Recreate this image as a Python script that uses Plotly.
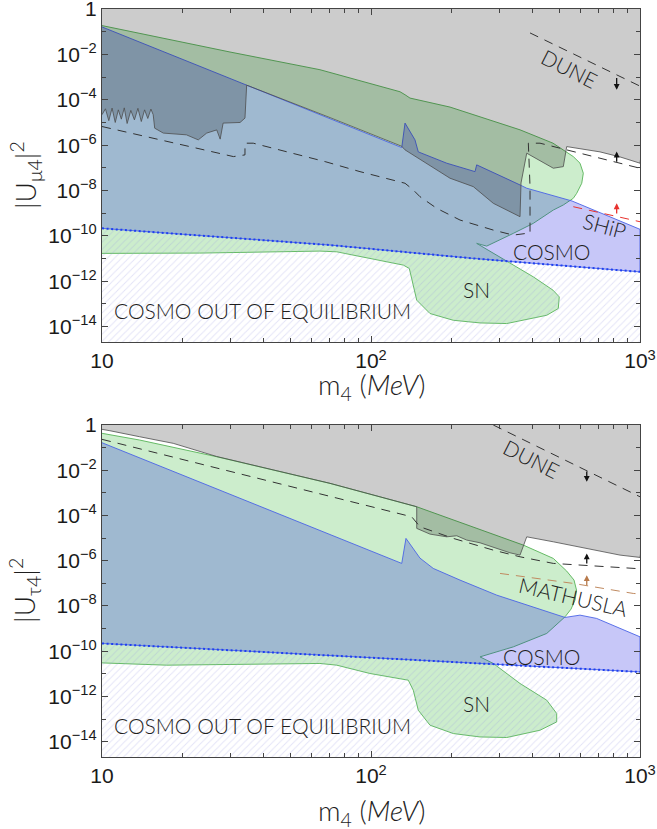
import numpy as np
import plotly.graph_objects as go

# ---------------- axis limits ----------------
M_LO, M_HI = 10, 1000
U_CEIL, U_FLOOR = 2.0, 1e-16

# ================= TOP PANEL (|U_mu4|^2) =================
# grey (excluded) region: lower boundary, left -> right
mu_gray_m = [10, 10.3, 10.6, 10.9, 11.2, 11.5, 11.8, 12.1, 12.4, 12.8, 13.2, 13.6, 14.0, 14.4, 14.8, 15.2, 15.5,
             15.7, 16.9, 20.6, 22.8, 24.5, 26.7, 27.5, 28.2, 32.6, 34.0, 34.5, 70.4, 130.1, 133.8, 149.9, 196.7,
             240.1, 284.9, 358.1, 361.2, 379.2, 476.2, 518.7, 534, 710, 842.9, 1000]
mu_gray_u = [2.2e-5, 4.0e-5, 1.2e-5, 4.3e-5, 1.0e-5, 3.6e-5, 1.4e-5, 4.4e-5, 9e-6, 3.4e-5, 1.3e-5, 4.2e-5, 1.1e-5, 3.6e-5, 1.5e-5, 3.9e-5, 2.2e-5,
             5.6e-6, 3.4e-6, 2.85e-6, 1.71e-6, 3.4e-6, 4.7e-6, 1.84e-6, 9.4e-6, 1.0e-5, 1.56e-5, 4.4e-4, 1.64e-5, 8.9e-7, 6.2e-7, 2.66e-7, 3.48e-8,
             1.48e-8, 2.73e-9, 7.0e-10, 2.15e-8, 4.42e-7, 9.6e-8, 1.13e-7, 8.65e-7, 5.05e-7, 3.03e-7, 1.6e-7]

# green (BBN + SN) region outline
mu_green_m = [10, 29.9, 64.6, 128.2, 133.8, 139.6, 196.7, 358.1, 475, 565, 598.4, 615.5, 607.3, 581.8, 565, 518.7,
              476.2, 401.2, 338.1, 284.9, 269.2, 247.1, 319.5, 401.2, 475, 501, 496.8, 450.1, 319.5, 254.2, 202.3,
              165.7, 147.9, 141.7, 138.8, 131.9, 74.6, 64.6, 23.1, 10]
mu_green_u = [0.187, 0.0128, 2.12e-3, 2.26e-4, 1.67e-4, 1.19e-4, 4.77e-5, 4.73e-6, 1.22e-6, 3.13e-7, 1.6e-7, 5.78e-8, 2.09e-8, 7.55e-9, 4.54e-9, 2.3e-9,
              1.38e-9, 3.57e-10, 1.29e-10, 4.96e-11, 3.54e-11, 4.67e-11, 7.94e-12, 1.56e-12, 4.03e-13, 2.04e-13, 6.25e-14, 3.16e-14, 1.36e-14, 1.45e-14, 1.9e-14,
              3.76e-14, 1.46e-13, 1.11e-12, 3.66e-12, 5.13e-12, 1.98e-11, 2.13e-11, 1.74e-11, 1.69e-11]

# blue region: upper boundary (left -> right) and cosmological (dotted) lower boundary
mu_blue_top_m = [10, 130.1, 133.8, 145.7, 149.9, 191.2, 243.6, 247.1, 358.1, 379.2, 558.8, 1000]
mu_blue_top_u = [0.163, 7.82e-7, 9.36e-6, 1.71e-6, 5.05e-7, 1.6e-7, 6.8e-8, 1.35e-7, 1.76e-8, 1.26e-8, 3.45e-9, 1.94e-10]
mu_cosmo_m = [10, 70.4, 240.1, 1000]
mu_cosmo_u = [2.14e-10, 3.93e-11, 1.01e-11, 2.59e-12]

# dashed sensitivity curves
mu_dash_m = [10, 30.8, 34.0, 34.0, 36.5, 67.5, 91, 133.8, 143.6, 152.1, 175.5, 214.2, 284.9, 338.1, 379.2, 390.1,
             390.1, 384.5, 424.9, 476.2, 598.4, 944.1, 1000]
mu_dash_u = [6.62e-6, 3.13e-7, 3.72e-7, 1.22e-6, 1.22e-6, 1.88e-7, 6.8e-8, 2.09e-8, 1.06e-8, 5.34e-9, 1.64e-9, 4.99e-10, 1.8e-10, 1.08e-10, 1.29e-10, 1.29e-10,
             1.48e-8, 1.22e-6, 1.22e-6, 8.65e-7, 4.42e-7, 1.13e-7, 9.6e-8]
mu_dune_m = [390.1, 1000]
mu_dune_u = [0.0887, 4.0e-4]
mu_ship_m = [565, 1000]
mu_ship_u = [1.93e-9, 4.2e-10]

# ================= BOTTOM PANEL (|U_tau4|^2) =================
tau_gray_m = [10, 10.7, 13.8, 18.4, 26.7, 70.4, 147.9, 147.9, 165.7, 191.2, 208.3, 226.9, 254.2, 293.4, 328.6, 358.1,
              379.2, 476.2, 633.9, 842.9, 1000]
tau_gray_u = [0.645, 0.56, 0.304, 0.155, 0.0405, 2.63e-3, 2.43e-4, 2.69e-5, 1.5e-5, 1.14e-5, 1.27e-5, 8.16e-6, 6.2e-6, 3.5e-6, 2.24e-6, 1.77e-6,
              1.14e-5, 6.86e-6, 3.5e-6, 1.77e-6, 1.4e-6]

tau_green_m = [10, 13.8, 26.7, 70.4, 147.9, 368.3, 476.2, 534, 568.5, 580.8, 573.4, 554, 526.3, 450.1, 338.1, 254.2,
               284.9, 358.1, 450.1, 490.1, 490.1, 424.9, 319.5, 254.2, 202.3, 165.7, 149.9, 143.6, 137.6, 99.1, 74.6,
               64.6, 17.4, 10]
tau_green_u = [0.43, 0.217, 0.0396, 2.63e-3, 2.43e-4, 4.9e-6, 1.26e-6, 3.47e-7, 1.39e-7, 5e-8, 1.81e-8, 7.21e-9, 3.3e-9, 6.07e-10, 1.55e-10, 5.6e-11,
               2.86e-11, 3.72e-12, 6.79e-13, 1.75e-13, 7.44e-14, 3.19e-14, 1.52e-14, 1.61e-14, 2.28e-14, 5.32e-14, 2.45e-13, 1.88e-12, 5.21e-12, 1.03e-11, 2.4e-11,
               2.86e-11, 2.4e-11, 3.03e-11]

tau_blue_top_m = [10, 130.1, 134.9, 143.3, 152.1, 170.4, 214.2, 293.4, 413, 526.3, 598.4, 690.2, 1000]
tau_blue_top_u = [0.165, 7.6e-7, 9.7e-6, 3.61e-6, 1.3e-6, 4.56e-7, 1.39e-7, 3e-8, 7.75e-9, 3.1e-9, 3.92e-9, 2.8e-9, 4.3e-10]
tau_cosmo_m = [10, 64.6, 254.2, 1000]
tau_cosmo_u = [2.19e-10, 6.65e-11, 2.86e-11, 1.21e-11]

tau_dash_m = [10, 70.4, 141.7, 152.1, 202.3, 284.9, 358.1, 476.2, 944.1, 1000]
tau_dash_u = [0.233, 7.22e-4, 8.75e-5, 3.16e-5, 9.7e-6, 2.94e-6, 1.49e-6, 7.6e-7, 4.56e-7, 4.4e-7]
tau_dune_m = [284.9, 1000]
tau_dune_u = [1.0, 6.72e-4]
tau_mathusla_m = [301.8, 565, 944.1, 1000]
tau_mathusla_u = [2.74e-7, 9.9e-8, 3.57e-8, 3.4e-8]

# labels: (text, mass, U^2, angle)
mu_labels = [("DUNE", 549, 2.5e-3, 27), ("SHiP", 741, 3.0e-10, 15), ("COSMO", 470, 1.98e-11, 0),
             ("SN", 247, 4.3e-13, 0)]
tau_labels = [("DUNE", 395, 3.4e-2, 27), ("MATHUSLA", 565, 2.5e-8, 13), ("COSMO", 431, 5.6e-11, 0),
              ("SN", 247, 4.9e-13, 0)]
# arrows: (mass, tail U^2, head U^2, colour)
mu_arrows = [(819, 1.07e-3, 2.77e-4, "#111"), (819, 1.6e-7, 5.2e-7, "#111"), (819, 8.3e-10, 2.73e-9, "#e8322e")]
tau_arrows = [(634, 1.02e-2, 3.1e-3, "#111"), (634, 6.4e-7, 2.1e-6, "#111"), (634, 7e-8, 2.3e-7, "#b87a4b")]

# ---------------- styles ----------------
GREEN = "rgba(0,165,0,0.2)"
BLUE = "rgba(0,0,225,0.22)"
GRAY = "rgba(0,0,0,0.2)"
LABEL_FONT = dict(family="Lato", size=21, color="#1e1e1e", weight=300)

fig = go.Figure()


def add_poly(m, u, xa, ya, fill, lc, lw):
    fig.add_trace(go.Scatter(x=m, y=u, mode="lines", fill="toself", fillcolor=fill,
                             line=dict(color=lc, width=lw), xaxis=xa, yaxis=ya, hoverinfo="skip"))


def add_line(m, u, xa, ya, color, dash, width=1.0):
    fig.add_trace(go.Scatter(x=m, y=u, mode="lines", line=dict(color=color, dash=dash, width=width),
                             xaxis=xa, yaxis=ya, hoverinfo="skip"))


def panel(xa, ya, gray_m, gray_u, green_m, green_u, blue_m, blue_u, cos_m, cos_u):
    add_poly(green_m, green_u, xa, ya, GREEN, "#66bb66", 1.0)
    # hatched "out of equilibrium" region below the cosmology line
    fig.add_trace(go.Scatter(x=cos_m + [M_HI * 1.2, M_LO / 1.2], y=cos_u + [U_FLOOR, U_FLOOR], mode="lines",
                             fill="toself", fillcolor="rgba(0,0,0,0)", line=dict(width=0),
                             fillpattern=dict(shape="/", size=5, solidity=0.18, fgcolor="rgba(150,150,225,0.55)",
                                              bgcolor="rgba(0,0,0,0)"),
                             xaxis=xa, yaxis=ya, hoverinfo="skip"))
    add_poly(blue_m + cos_m[::-1], blue_u + cos_u[::-1], xa, ya, BLUE, "#4a63e6", 0.9)
    add_poly(gray_m + [M_HI * 1.2, M_LO / 1.2], gray_u + [U_CEIL, U_CEIL], xa, ya, GRAY, "#4d4d4d", 0.8)
    # dotted cosmology line
    add_line(cos_m, cos_u, xa, ya, "#1f3ff0", "2px,2.6px", 2.0)


panel("x", "y", mu_gray_m, mu_gray_u, mu_green_m, mu_green_u, mu_blue_top_m, mu_blue_top_u, mu_cosmo_m, mu_cosmo_u)
add_line(mu_dash_m, mu_dash_u, "x", "y", "#333", "9px,7px", 1.0)
add_line(mu_dune_m, mu_dune_u, "x", "y", "#333", "9px,7px", 1.0)
add_line(mu_ship_m, mu_ship_u, "x", "y", "#e8322e", "9px,7px", 1.0)

panel("x2", "y2", tau_gray_m, tau_gray_u, tau_green_m, tau_green_u, tau_blue_top_m, tau_blue_top_u, tau_cosmo_m,
      tau_cosmo_u)
add_line(tau_dash_m, tau_dash_u, "x2", "y2", "#333", "9px,7px", 1.0)
add_line(tau_dune_m, tau_dune_u, "x2", "y2", "#333", "9px,7px", 1.0)
add_line(tau_mathusla_m, tau_mathusla_u, "x2", "y2", "#c08a60", "9px,7px", 1.0)

L = lambda v: float(np.log10(v))
ann = []
for (labels, arrows, xr, yr) in [(mu_labels, mu_arrows, "x", "y"), (tau_labels, tau_arrows, "x2", "y2")]:
    for (t, m, u, a) in labels:
        ann.append(dict(text=t, x=L(m), y=L(u), xref=xr, yref=yr, showarrow=False, textangle=a, font=LABEL_FONT))
    ann.append(dict(text="COSMO OUT OF EQUILIBRIUM", x=L(10.87), y=-13.28, xref=xr, yref=yr, xanchor="left",
                    showarrow=False, font=LABEL_FONT))
    for (m, ut, uh, c) in arrows:
        ann.append(dict(x=L(m), y=L(uh), ax=L(m), ay=L(ut), xref=xr, yref=yr, axref=xr, ayref=yr, text="",
                        showarrow=True, arrowhead=2, arrowsize=0.9, arrowwidth=1.3, arrowcolor=c))

TITLE_FONT = dict(family="Lato", size=28, color="#1e1e1e", weight=300)
ann += [
    dict(text="|U<sub>μ4</sub>|<sup>2</sup>", x=-0.143, y=0.778, xref="paper", yref="paper", textangle=-90,
         xanchor="center", yanchor="middle", showarrow=False, font=TITLE_FONT),
    dict(text="|U<sub>τ4</sub>|<sup>2</sup>", x=-0.143, y=0.222, xref="paper", yref="paper", textangle=-90,
         xanchor="center", yanchor="middle", showarrow=False, font=TITLE_FONT),
    dict(text="m<sub>4</sub> (<i>MeV</i>)", x=0.5, y=0.496, xref="paper", yref="paper", showarrow=False,
         xanchor="center", yanchor="middle", font=TITLE_FONT),
    dict(text="m<sub>4</sub> (<i>MeV</i>)", x=0.5, y=-0.073, xref="paper", yref="paper", showarrow=False,
         xanchor="center", yanchor="middle", font=TITLE_FONT),
]

x_ticks = [10, 100, 1000]
x_ticktext = ["10", "10<sup>2</sup>", "10<sup>3</sup>"]
x_minor = [20, 30, 40, 50, 60, 70, 80, 90, 200, 300, 400, 500, 600, 700, 800, 900]
y_ticks = [1, 1e-2, 1e-4, 1e-6, 1e-8, 1e-10, 1e-12, 1e-14]
y_ticktext = ["1"] + ["10<sup>−%d</sup>" % k for k in (2, 4, 6, 8, 10, 12, 14)]
y_minor = [1e-1, 1e-3, 1e-5, 1e-7, 1e-9, 1e-11, 1e-13]

TICK_FONT = dict(family="Liberation Sans", size=21, color="#1a1a1a")
xa = dict(type="log", range=[1, 3], tickvals=x_ticks, ticktext=x_ticktext, ticks="inside", ticklen=6,
          tickcolor="#444", mirror="allticks", showline=True, linecolor="#444", linewidth=1.3, showgrid=False,
          zeroline=False, tickfont=TICK_FONT, automargin=False, ticklabeloverflow="allow",
          minor=dict(tickvals=x_minor, ticks="inside", ticklen=3.5, tickcolor="#444", showgrid=False))
ya = dict(type="log", range=[-14.68, 0.003], tickvals=y_ticks, ticktext=y_ticktext, ticks="inside", ticklen=6,
          tickcolor="#444", mirror="allticks", showline=True, linecolor="#444", linewidth=1.3, showgrid=False,
          zeroline=False, tickfont=TICK_FONT, automargin=False, ticklabeloverflow="allow",
          minor=dict(tickvals=y_minor, ticks="inside", ticklen=3.5, tickcolor="#444", showgrid=False))

fig.update_layout(
    width=657, height=829, margin=dict(l=102, r=17, t=9, b=72, autoexpand=False), showlegend=False,
    plot_bgcolor="white", paper_bgcolor="white",
    xaxis=dict(xa, domain=[0, 1], anchor="y"),
    yaxis=dict(ya, domain=[0.5548, 1], anchor="x"),
    xaxis2=dict(xa, domain=[0, 1], anchor="y2"),
    yaxis2=dict(ya, domain=[0, 0.4439], anchor="x2"),
    annotations=ann,
)

fig.write_html("out.html")
